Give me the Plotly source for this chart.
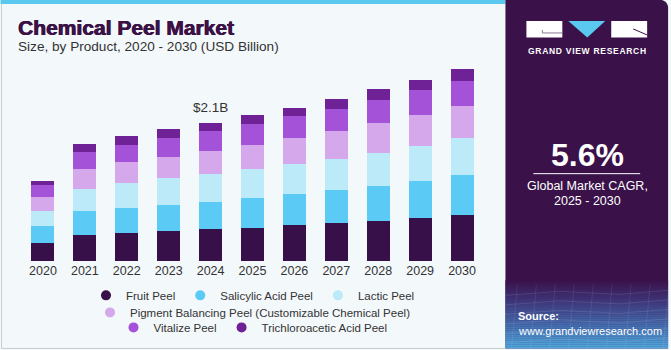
import math
import plotly.graph_objects as go

years = ["2020", "2021", "2022", "2023", "2024", "2025", "2026", "2027", "2028", "2029", "2030"]
fruit_peel = [0.278, 0.390, 0.425, 0.455, 0.486, 0.507, 0.542, 0.577, 0.613, 0.652, 0.693]
salicylic_acid_peel = [0.247, 0.364, 0.379, 0.390, 0.410, 0.445, 0.470, 0.500, 0.525, 0.561, 0.607]
lactic_peel = [0.228, 0.334, 0.379, 0.410, 0.420, 0.440, 0.455, 0.466, 0.500, 0.527, 0.561]
pigment_balancing_peel = [0.217, 0.303, 0.314, 0.323, 0.350, 0.369, 0.400, 0.430, 0.455, 0.466, 0.486]
vitalize_peel = [0.178, 0.263, 0.268, 0.288, 0.300, 0.314, 0.325, 0.325, 0.344, 0.379, 0.379]
trichloroacetic_acid_peel = [0.065, 0.126, 0.126, 0.132, 0.130, 0.137, 0.130, 0.156, 0.167, 0.156, 0.178]

series = [
    ("Fruit Peel", fruit_peel, "#37104A"),
    ("Salicylic Acid Peel", salicylic_acid_peel, "#5BCBF5"),
    ("Lactic Peel", lactic_peel, "#BDEAF9"),
    ("Pigment Balancing Peel (Customizable Chemical Peel)", pigment_balancing_peel, "#D5A8EC"),
    ("Vitalize Peel", vitalize_peel, "#A452D8"),
    ("Trichloroacetic Acid Peel", trichloroacetic_acid_peel, "#6E2296"),
]
legend_rows = ["legend", "legend", "legend", "legend2", "legend3", "legend3"]

highlight_year = "2024"
highlight_label = "$2.1B"
cagr_text = "5.6%"

# layout geometry (pixels)
W, Hh = 671, 350
L, PW = 21.5, 462.0
T, PH = 60.0, 200.7
YMAX = 3.046


def px(x, y):
    return (x - L) / PW, (T + PH - y) / PH


fig = go.Figure()
for (name, vals, col), lg in zip(series, legend_rows):
    fig.add_trace(go.Bar(x=years, y=vals, name=name, marker=dict(color=col, line=dict(width=0)),
                         showlegend=False, hoverinfo="skip"))
for (name, vals, col), lg in zip(series, legend_rows):
    fig.add_trace(go.Scatter(x=[years[0]], y=[None], mode="markers", name=name,
                             marker=dict(color=col, size=10, symbol="circle"),
                             legend=lg, showlegend=True, hoverinfo="skip"))

totals = [sum(v) for v in zip(*[s[1] for s in series])]
hi = years.index(highlight_year)

shapes = []
annotations = []


def rect(x0, y0, x1, y1, color, line=None, layer="below"):
    a = px(x0, y0)
    b = px(x1, y1)
    shapes.append(dict(type="rect", xref="paper", yref="paper", x0=a[0], y0=b[1], x1=b[0], y1=a[1],
                       fillcolor=color, line=line or dict(width=0), layer=layer))


def path(points, color, line=None, layer="below", close=True):
    d = ""
    for i, (x, y) in enumerate(points):
        p = px(x, y)
        d += ("M" if i == 0 else "L") + f"{p[0]:.5f},{p[1]:.5f} "
    if close:
        d += "Z"
    shp = dict(type="path", xref="paper", yref="paper", path=d,
               line=line or dict(width=0), layer=layer)
    if close:
        shp["fillcolor"] = color
    shapes.append(shp)


def text(x, y, s, size, color, bold=False, xanchor="left", family="Liberation Sans", shadow=None):
    p = px(x, y)
    font = dict(size=size, color=color, family=family)
    if shadow:
        font["shadow"] = shadow
    annotations.append(dict(xref="paper", yref="paper", x=p[0], y=p[1], text=f"<b>{s}</b>" if bold else s,
                            showarrow=False, xanchor=xanchor, yanchor="middle", borderpad=0,
                            font=font))


# left panel borders and top stripe
rect(0, 0, 506, 4, "#5BC8F0")
path([(1, 4), (1, 348), (506, 348)], None, line=dict(color="#CCCCCC", width=1), close=False)

# right panel with rounded top-right corner
r = 8
pts = [(506, 0), (669 - r, 0)]
for k in range(1, 9):
    a = k * math.pi / 16
    pts.append((669 - r + r * math.sin(a), r - r * math.cos(a)))
pts += [(669, 348), (506, 348)]
path(pts, "#3A1149")


# gradient strip at bottom of right panel
def lerp(c1, c2, t):
    return tuple(int(round(a + (b - a) * t)) for a, b in zip(c1, c2))


stops = [(280, (58, 17, 73)), (300, (62, 52, 120)), (325, (68, 110, 175)), (348, (80, 168, 222))]
n = 34
y0 = 280
for i in range(n):
    ya = y0 + (348 - y0) * i / n
    yb = y0 + (348 - y0) * (i + 1) / n + 0.3
    ym = (ya + yb) / 2
    c = stops[-1][1]
    for (sa, ca), (sb, cb) in zip(stops[:-1], stops[1:]):
        if sa <= ym <= sb:
            c = lerp(ca, cb, (ym - sa) / (sb - sa))
            break
    rect(506, ya, 669, min(yb, 348), "rgb(%d,%d,%d)" % c)

# faint grid lines in gradient
for k in range(6):
    yy = 292 + k * 9.5
    path([(506, yy + 3), (560, yy - 1), (620, yy + 2), (669, yy - 2)], None,
         line=dict(color="rgba(255,255,255,0.10)", width=1), close=False)
for k in range(9):
    xx = 512 + k * 19
    path([(xx + 6, 284), (xx, 348)], None, line=dict(color="rgba(255,255,255,0.08)", width=1), close=False)

# logo
rect(527, 21, 563, 37.5, "white", layer="above")
path([(543, 30), (543, 33), (563, 33)], None, line=dict(color="#8A7A95", width=1), layer="above", close=False)
path([(569, 21), (606, 21), (588, 37.5)], "#5BC8F0", layer="above")
rect(612, 21, 648, 37.5, "white", layer="above")
path([(634, 29), (648, 35)], None, line=dict(color="#3A1149", width=1), layer="above", close=False)
text(588, 51, "\u200a".join("GRAND VIEW RESEARCH"), 8.5, "white", bold=True, xanchor="center")

# CAGR
text(588, 155, cagr_text, 32, "white", bold=True, xanchor="center")
path([(534, 173.5), (641, 173.5)], None, line=dict(color="white", width=1), layer="above", close=False)
text(588, 186, "Global Market CAGR,", 12.5, "white", xanchor="center")
text(588, 201, "2025 - 2030", 12.5, "white", xanchor="center")

# source
text(518, 316, "Source:", 11, "white", bold=True)
text(518, 331, "www.grandviewresearch.com", 11, "white")

# titles
text(16, 28, "Chemical Peel Market", 21, "#3B1245", bold=True,
     shadow="0.6px 0 0 #3B1245, -0.3px 0 0 #3B1245")
text(16, 47, "Size, by Product, 2020 - 2030 (USD Billion)", 13.6, "#333333")

# highlight annotation
annotations.append(dict(x=hi, y=totals[hi], xref="x", yref="y", text=highlight_label,
                        showarrow=False, yanchor="bottom", yshift=6,
                        font=dict(size=13.5, color="#333333", family="Liberation Sans")))

legend_common = dict(orientation="h", xanchor="center", yanchor="middle", bgcolor="rgba(0,0,0,0)",
                     traceorder="normal",
                     font=dict(size=11.5, color="#333333", family="Liberation Sans"),
                     itemclick=False, itemdoubleclick=False)
lx, _ = px(253, 0)

fig.update_layout(
    width=W, height=Hh,
    margin=dict(l=L, r=W - L - PW, t=T, b=Hh - T - PH, pad=0, autoexpand=False),
    paper_bgcolor="#F3F8FB", plot_bgcolor="rgba(0,0,0,0)",
    barmode="stack", bargap=0.45,
    xaxis=dict(type="category", categoryorder="array", categoryarray=years, range=[-0.5, len(years) - 0.5],
               showgrid=False, zeroline=False, showline=False, ticks="",
               tickfont=dict(size=12.5, color="#333333", family="Liberation Sans"), fixedrange=True),
    yaxis=dict(range=[0, YMAX], visible=False, showgrid=False, fixedrange=True),
    legend=dict(x=lx, y=px(0, 295)[1], **legend_common),
    legend2=dict(x=lx, y=px(0, 312)[1], **legend_common),
    legend3=dict(x=lx, y=px(0, 327)[1], **legend_common),
    shapes=shapes,
    annotations=annotations,
    showlegend=True,
)

fig.write_html("out.html")
